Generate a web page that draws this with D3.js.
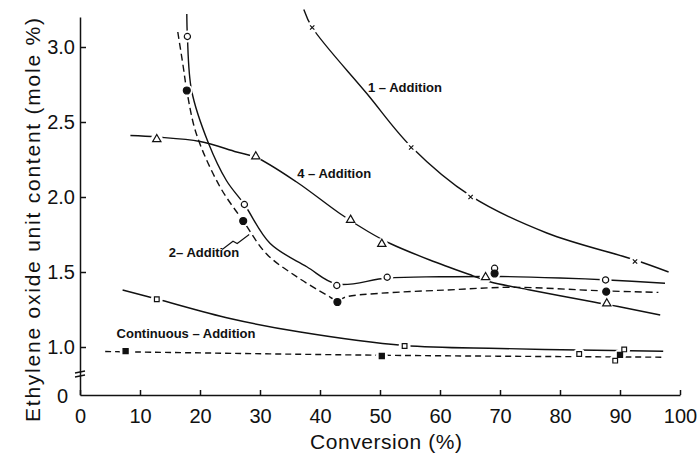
<!DOCTYPE html>
<html>
<head>
<meta charset="utf-8">
<script src="https://cdn.jsdelivr.net/npm/d3@7"></script>
<style>
    body { margin: 0; background: #fff; }
    svg { display: block; }
    .curve { fill: none; stroke: #111; stroke-width: 1.4; }
    .label { font-family: "Liberation Sans", Arial, sans-serif; font-weight: bold; font-size: 13px; fill: #111; }
</style>
</head>
<body>
<div class="container"></div>
<script>
const WIDTH = 699,
    HEIGHT = 465,
    MARGIN = { top: 17, right: 19, bottom: 70, left: 80 },
    INNER_WIDTH = WIDTH - MARGIN.left - MARGIN.right,
    INNER_HEIGHT = HEIGHT - MARGIN.top - MARGIN.bottom,
    FONT = '"Liberation Sans", Arial, sans-serif';

// ticks
const X_TICKS = [0, 10, 20, 30, 40, 50, 60, 70, 80, 90, 100];
const Y_TICKS = [0, 1.0, 1.5, 2.0, 2.5, 3.0];
const Y_TICK_LABELS = ['0', '1.0', '1.5', '2.0', '2.5', '3.0'];

// 1-Addition (x, solid)
const oneAddPoints = [[38.7, 3.13], [55.2, 2.33], [65.1, 2.0], [92.5, 1.57]];
const oneAddCurve = [[37.3, 3.25], [38.7, 3.13], [47.8, 2.69], [55.2, 2.335], [65.1, 2.007],
    [77.8, 1.76], [92.5, 1.58], [98.1, 1.50]];

// 2-Addition (open circles, solid)
const twoAddOpenPoints = [[17.9, 3.07], [27.4, 1.95], [42.8, 1.41], [51.2, 1.465], [69.1, 1.525], [87.6, 1.447]];
const twoAddOpenCurve = [[17.8, 3.22], [17.9, 3.07], [18.6, 2.71], [21.4, 2.36], [24.4, 2.11], [27.4, 1.95],
    [31.7, 1.69], [37.8, 1.535], [42.8, 1.42], [51.2, 1.46], [60, 1.468], [70, 1.47], [80, 1.46],
    [88, 1.447], [97.5, 1.425]];

// 2-Addition (filled circles, dashed)
const twoAddFilledPoints = [[17.8, 2.71], [27.2, 1.84], [42.9, 1.30], [69.1, 1.49], [87.7, 1.369]];
const twoAddFilledCurve = [[16.3, 3.10], [17.2, 2.87], [17.8, 2.71], [19.4, 2.42], [23.3, 2.07], [27.2, 1.84],
    [31.1, 1.62], [36.1, 1.469], [41.1, 1.347], [42.9, 1.31], [44.4, 1.335], [50, 1.358], [61.1, 1.38],
    [72.2, 1.398], [86.7, 1.375], [96.4, 1.364]];

// 4-Addition (triangles, solid)
const fourAddPoints = [[12.8, 2.385], [29.3, 2.27], [45.1, 1.847], [50.3, 1.687], [67.6, 1.465], [87.8, 1.29]];
const fourAddCurve = [[8.4, 2.41], [12.8, 2.40], [20, 2.37], [26.1, 2.30], [29.3, 2.265], [36.1, 2.10],
    [43.3, 1.89], [48, 1.77], [51.7, 1.69], [58.3, 1.58], [65.6, 1.473], [68.3, 1.435], [75, 1.38],
    [85.6, 1.30], [89.7, 1.27], [96.7, 1.213]];

// Continuous-Addition (open squares, solid)
const contOpenPoints = [[12.8, 1.318], [54.1, 1.007], [83.2, 0.953], [89.2, 0.909], [90.7, 0.984]];
const contOpenCurve = [[7.1, 1.38], [12.8, 1.32], [25, 1.19], [36.7, 1.10], [54, 1.01], [70, 0.99],
    [83, 0.98], [97.2, 0.972]];

// Continuous-Addition (filled squares, dashed)
const contFilledPoints = [[7.6, 0.973], [50.3, 0.94], [90, 0.947]];
const contFilledCurve = [[4.2, 0.97], [50.3, 0.945], [97.5, 0.932]];

const _xScale = d3.scaleLinear()
    .domain([0, 100])
    .range([0, INNER_WIDTH]);

// broken axis: 0 sits just below the 1.0 - 3.2 range
const _yScale = d3.scaleLinear()
    .domain([0, 0.75, 3.2])
    .range([INNER_HEIGHT, INNER_HEIGHT - 10.5, 0]);

var translate = (x, y) => `translate(${x},${y})`;

var createGraph = () => {
    var svg = d3.select('.container').append('svg')
        .attr('width', WIDTH)
        .attr('height', HEIGHT);

    var g = svg.append('g')
        .attr('transform', translate(MARGIN.left, MARGIN.top));

    var xAxis = d3.axisBottom(_xScale)
        .tickValues(X_TICKS)
        .tickSize(-5)
        .tickSizeOuter(0)
        .tickPadding(14)
        .tickFormat((d) => d);

    var yAxis = d3.axisLeft(_yScale)
        .tickValues(Y_TICKS)
        .tickSize(-6)
        .tickSizeOuter(0)
        .tickPadding(5)
        .tickFormat((d, i) => Y_TICK_LABELS[i]);

    var gx = g.append('g')
        .attr('transform', translate(0, INNER_HEIGHT))
        .call(xAxis);

    var gy = g.append('g')
        .call(yAxis);

    [gx, gy].forEach((a) => {
        a.attr('font-family', FONT).attr('font-size', 20);
        a.selectAll('path, line').attr('stroke', '#111').attr('stroke-width', 1.5);
        a.selectAll('text').attr('fill', '#111');
    });

    // "0" on the y axis sits a little further left
    gy.selectAll('.tick text').filter((d) => d === 0).attr('x', -12).attr('dy', '0.35em');
    gy.selectAll('.tick line').filter((d) => d === 0).remove();

    // axis break
    var yb = _yScale(0.82);
    g.append('path')
        .attr('d', `M-5,${yb - 1}L5,${yb - 3}M-5,${yb + 3}L5,${yb + 1}`)
        .attr('stroke', '#111')
        .attr('stroke-width', 1.3)
        .attr('fill', 'none');

    // axis titles
    svg.append('text')
        .attr('x', MARGIN.left + INNER_WIDTH * 0.51)
        .attr('y', 449)
        .attr('text-anchor', 'middle')
        .attr('font-family', FONT)
        .attr('font-size', 21)
        .attr('textLength', 152)
        .attr('fill', '#111')
        .text('Conversion (%)');

    svg.append('text')
        .attr('transform', translate(40, 220) + ' rotate(-90)')
        .attr('text-anchor', 'middle')
        .attr('font-family', FONT)
        .attr('font-size', 21)
        .attr('textLength', 404)
        .attr('fill', '#111')
        .text('Ethylene oxide unit content (mole %)');

    return g;
}

var line = d3.line()
    .x((d) => _xScale(d[0]))
    .y((d) => _yScale(d[1]))
    .curve(d3.curveCatmullRom.alpha(0.5));

var addCurve = (graph, datum, dash) => {
    graph.append('path')
        .classed('curve', true)
        .attr('d', line(datum))
        .attr('stroke-dasharray', dash);
}

// white patch under each marker, so the lines stop short of it
var addHalo = (graph, datum, r) => {
    graph.append('g').selectAll('circle')
        .data(datum)
        .enter().append('circle')
        .attr('r', r)
        .attr('fill', '#fff')
        .attr('cx', (d) => _xScale(d[0]))
        .attr('cy', (d) => _yScale(d[1]));
}

var addMarker = (graph, datum, type, filled, size) => {
    var sym = d3.symbol().type(type).size(size);
    graph.append('g').selectAll('path')
        .data(datum)
        .enter().append('path')
        .attr('d', sym)
        .attr('transform', (d) => translate(_xScale(d[0]), _yScale(d[1])))
        .attr('fill', filled ? '#111' : '#fff')
        .attr('stroke', '#111')
        .attr('stroke-width', 1.2);
}

var addLabel = (graph, text, x, y) => {
    graph.append('text')
        .classed('label', true)
        .attr('x', _xScale(x))
        .attr('y', _yScale(y))
        .text(text);
}

window.onload = () => {
    var graph = createGraph();

    addCurve(graph, oneAddCurve, null);
    addCurve(graph, twoAddOpenCurve, null);
    addCurve(graph, twoAddFilledCurve, '7,4');
    addCurve(graph, fourAddCurve, null);
    addCurve(graph, contOpenCurve, null);
    addCurve(graph, contFilledCurve, '6,4');

    [oneAddPoints, twoAddOpenPoints, twoAddFilledPoints, fourAddPoints, contOpenPoints, contFilledPoints]
        .forEach((pts) => addHalo(graph, pts, 6));

    addMarker(graph, oneAddPoints, d3.symbolTimes, false, 14);
    addMarker(graph, twoAddOpenPoints, d3.symbolCircle, false, 30);
    addMarker(graph, twoAddFilledPoints, d3.symbolCircle, true, 38);
    addMarker(graph, fourAddPoints, d3.symbolTriangle, false, 30);
    addMarker(graph, contOpenPoints, d3.symbolSquare, false, 22);
    addMarker(graph, contFilledPoints, d3.symbolSquare, true, 26);

    addLabel(graph, '1 \u2013 Addition', 48.0, 2.703);
    addLabel(graph, '4 \u2013 Addition', 36.2, 2.13);
    addLabel(graph, '2\u2013 Addition', 14.8, 1.603);
    addLabel(graph, 'Continuous \u2013 Addition', 6.1, 1.057);

    // leader from the 2-Addition label to its curves
    var leader = [[23.7, 1.65], [25.5, 1.705], [26.2, 1.69], [28.2, 1.75]];
    graph.append('path')
        .attr('d', d3.line().x((d) => _xScale(d[0])).y((d) => _yScale(d[1]))(leader))
        .attr('fill', 'none')
        .attr('stroke', '#111')
        .attr('stroke-width', 1.1);
}
</script>
</body>
</html>
